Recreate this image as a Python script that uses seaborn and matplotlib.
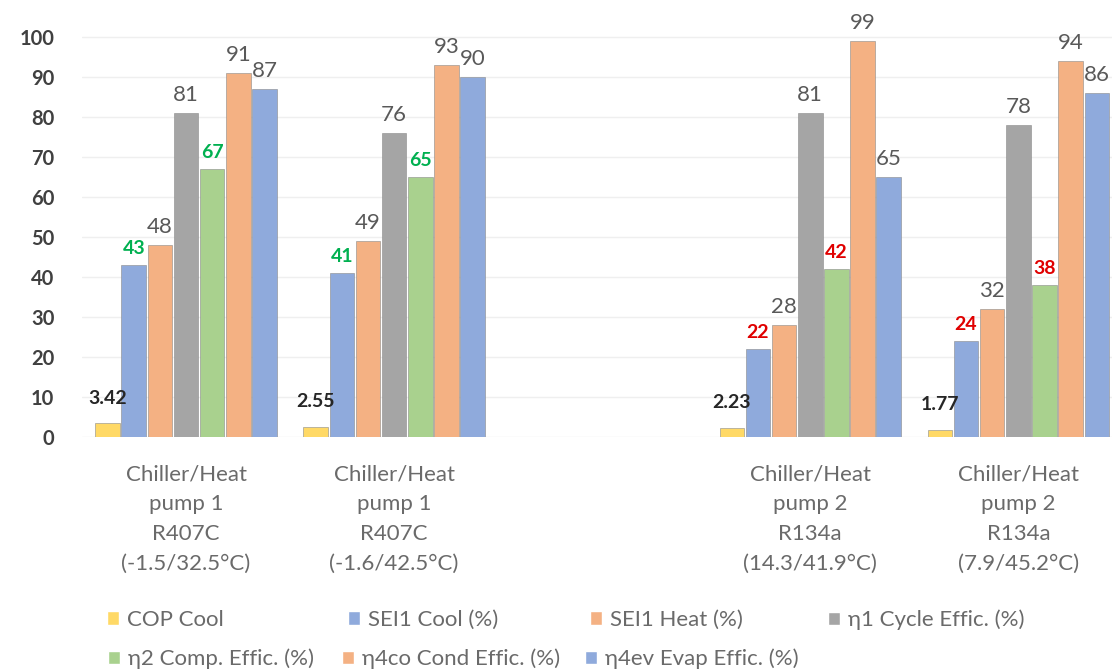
import numpy as np
import pandas as pd
import matplotlib.pyplot as plt
from matplotlib.patches import Patch
import seaborn as sns

categories = [
    "Chiller/Heat\npump 1\nR407C\n(-1.5/32.5°C)",
    "Chiller/Heat\npump 1\nR407C\n(-1.6/42.5°C)",
    " ",
    "Chiller/Heat\npump 2\nR134a\n(14.3/41.9°C)",
    "Chiller/Heat\npump 2\nR134a\n(7.9/45.2°C)",
]
series = ["COP Cool", "SEI1 Cool (%)", "SEI1 Heat (%)", "η1 Cycle Effic. (%)",
          "η2 Comp. Effic. (%)", "η4co Cond Effic. (%)", "η4ev Evap Effic. (%)"]
cop_cool = [3.42, 2.55, np.nan, 2.23, 1.77]
sei1_cool = [43, 41, np.nan, 22, 24]
sei1_heat = [48, 49, np.nan, 28, 32]
eta1_cycle = [81, 76, np.nan, 81, 78]
eta2_comp = [67, 65, np.nan, 42, 38]
eta4co_cond = [91, 93, np.nan, 99, 94]
eta4ev_evap = [87, 90, np.nan, 65, 86]
colors = ["#FFD966", "#8FAADC", "#F4B183", "#A5A5A5", "#A9D18E", "#F4B183", "#8FAADC"]

values = [cop_cool, sei1_cool, sei1_heat, eta1_cycle, eta2_comp, eta4co_cond, eta4ev_evap]
rows = []
for s, vals in zip(series, values):
    for c, v in zip(categories, vals):
        rows.append({"cat": c, "series": s, "val": v})
df = pd.DataFrame(rows).dropna()

sns.set_theme(style="white")
plt.rcParams["font.family"] = ["Lato", "DejaVu Sans"]

fig = plt.figure(figsize=(11.12, 6.72), dpi=100)
ax = fig.add_axes([82 / 1112, 235 / 672, 1030 / 1112, 420 / 672])

sns.barplot(data=df, x="cat", y="val", hue="series", order=categories, hue_order=series,
            palette=colors, saturation=1, width=0.88, gap=0.06, legend=False, ax=ax,
            edgecolor="#8a8a8a", linewidth=0.4)

ax.set_xlim(-0.5, 4.45)
ax.set_ylim(0, 105)
ax.set_yticks(range(0, 101, 10))
ax.yaxis.grid(True, color="#efefef", linewidth=1)
ax.set_axisbelow(True)
sns.despine(ax=ax, left=True, bottom=True)
ax.set_xlabel("")
ax.set_ylabel("")
ax.tick_params(axis="y", length=0, pad=20, labelsize=14.5, labelcolor="#404040")
for t in ax.get_yticklabels():
    t.set_fontweight("bold")
ax.tick_params(axis="x", length=0, pad=20, labelsize=16, labelcolor="#6a6a6a")
for t in ax.get_xticklabels():
    t.set_linespacing(1.6)

# data labels
for si, cont in enumerate(ax.containers):
    for bar in cont:
        h = bar.get_height()
        if np.isnan(h):
            continue
        xc = bar.get_x() + bar.get_width() / 2
        grp = int(round(xc))
        if si == 0:
            txt, col, wt, off, fs = f"{h:.2f}", "#262626", "bold", 12, 14
        elif si in (1, 4):
            txt, col, wt, off, fs = f"{h:.0f}", ("#00B050" if grp < 2 else "#E00000"), "bold", 6, 14
        else:
            txt, col, wt, off, fs = f"{h:.0f}", "#595959", "normal", 6, 16
        ax.annotate(txt, (xc, h), xytext=(0, off), textcoords="offset points",
                    ha="center", va="bottom", color=col, fontweight=wt, fontsize=fs)

# legend, laid out in rows like the original
handles = [Patch(facecolor=c) for c in colors]
pos = [(107, 620), (348, 620), (590, 620), (828, 620), (108, 659), (342, 659), (585, 659)]
for h, lab, (px, py) in zip(handles, series, pos):
    fig.legend([h], [lab], loc="center left", bbox_to_anchor=(px / 1112, 1 - py / 672),
               frameon=False, borderpad=0, borderaxespad=0, handlelength=0.55,
               handleheight=0.55, handletextpad=0.35, fontsize=16, labelcolor="#6a6a6a")

fig.savefig("out.png", dpi=100)
